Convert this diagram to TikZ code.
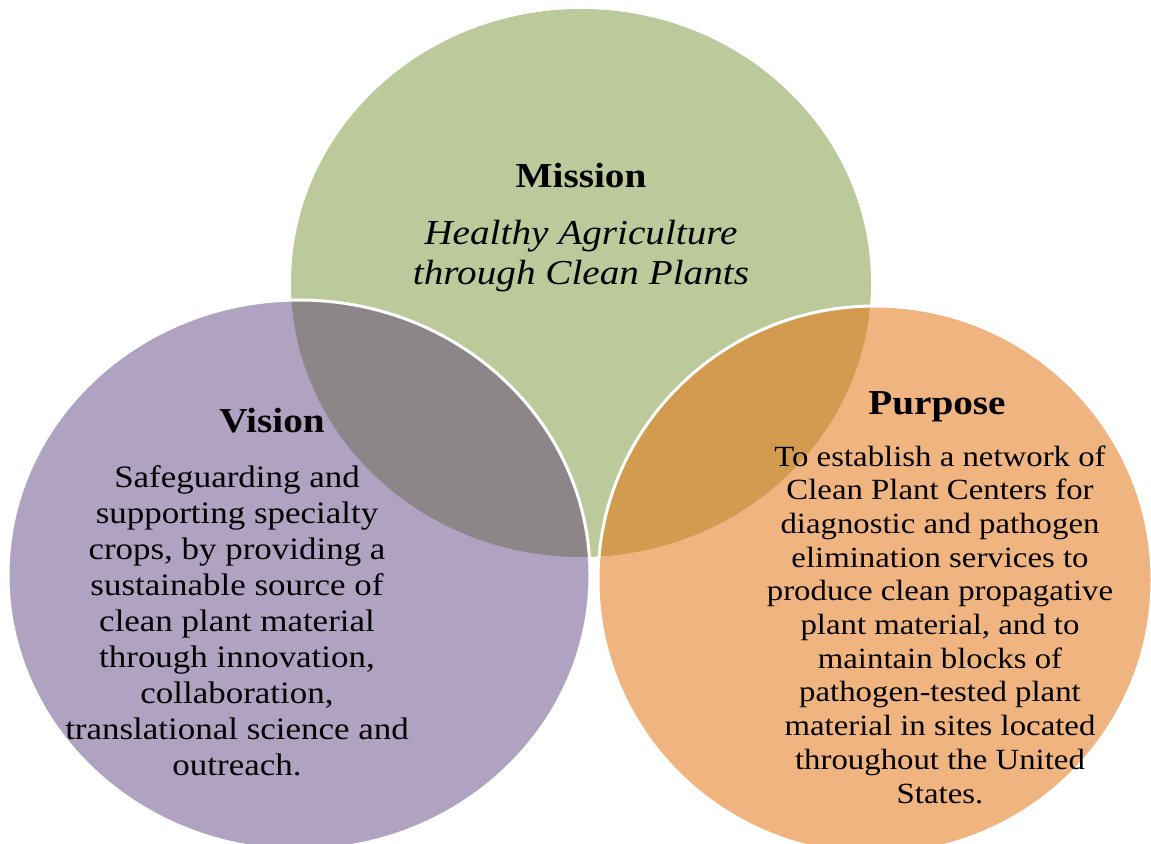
\documentclass[tikz,border=0pt]{standalone}
\usepackage{fontspec}
\setmainfont{Liberation Serif}[FakeStretch=1.12]
\usepackage{tikz}

\definecolor{missiongreen}{HTML}{BBC99B}
\definecolor{visionpurple}{HTML}{AFA3C1}
\definecolor{purposeorange}{HTML}{F0B480}
\definecolor{greylens}{HTML}{8C8689}
\definecolor{tanlens}{HTML}{D29B50}

\newcommand{\missionshape}{(581,283) ellipse [x radius=290, y radius=274]}
\newcommand{\visionshape}{(299,575) ellipse [x radius=291, y radius=275]}
\newcommand{\purposeshape}{(875,580) ellipse [x radius=277, y radius=274]}

\tikzset{
	outline/.style={draw=white, line width=1.5pt},
	headtxt/.style={font=\fontsize{17.5}{20}\selectfont\bfseries, inner sep=0pt, anchor=base},
	mottotxt/.style={font=\fontsize{17.5}{20}\selectfont\itshape, inner sep=0pt, anchor=base, align=center},
	visiontxt/.style={font=\fontsize{15.6}{17.95}\selectfont, inner sep=0pt, anchor=base, align=center},
	purposetxt/.style={font=\fontsize{14.65}{16.85}\selectfont, inner sep=0pt, anchor=base, align=center},
}

\begin{document}
\begin{tikzpicture}[x=0.5pt, y=-0.5pt]
	\useasboundingbox (0,0) rectangle (1151,844);
	\clip (0,0) rectangle (1151,844);

	% the three discs
	\fill[missiongreen] \missionshape;
	\fill[visionpurple] \visionshape;
	\fill[purposeorange] \purposeshape;

	% overlaps with the mission disc
	\begin{scope}
		\clip \missionshape;
		\fill[greylens] \visionshape;
		\fill[tanlens] \purposeshape;
	\end{scope}

	\draw[outline] \visionshape;
	\draw[outline] \purposeshape;

	% texts (base = baseline of the last line)
	\node[headtxt] (mission) at (581,188) {Mission};
	\node[mottotxt] (motto) at (581,285) {Healthy Agriculture\\through Clean Plants};

	\node[headtxt] (vision) at (272,433) {Vision};
	\node[visiontxt] (visiontext) at (237,775) {Safeguarding and\\supporting specialty\\crops, by providing a\\sustainable source of\\clean plant material\\through innovation,\\collaboration,\\translational science and\\outreach.};

	\node[headtxt] (purpose) at (937,415) {Purpose};
	\node[purposetxt] (purposetext) at (940,803) {To establish a network of\\Clean Plant Centers for\\diagnostic and pathogen\\elimination services to\\produce clean propagative\\plant material, and to\\maintain blocks of\\pathogen-tested plant\\material in sites located\\throughout the United\\States.};
\end{tikzpicture}
\end{document}
